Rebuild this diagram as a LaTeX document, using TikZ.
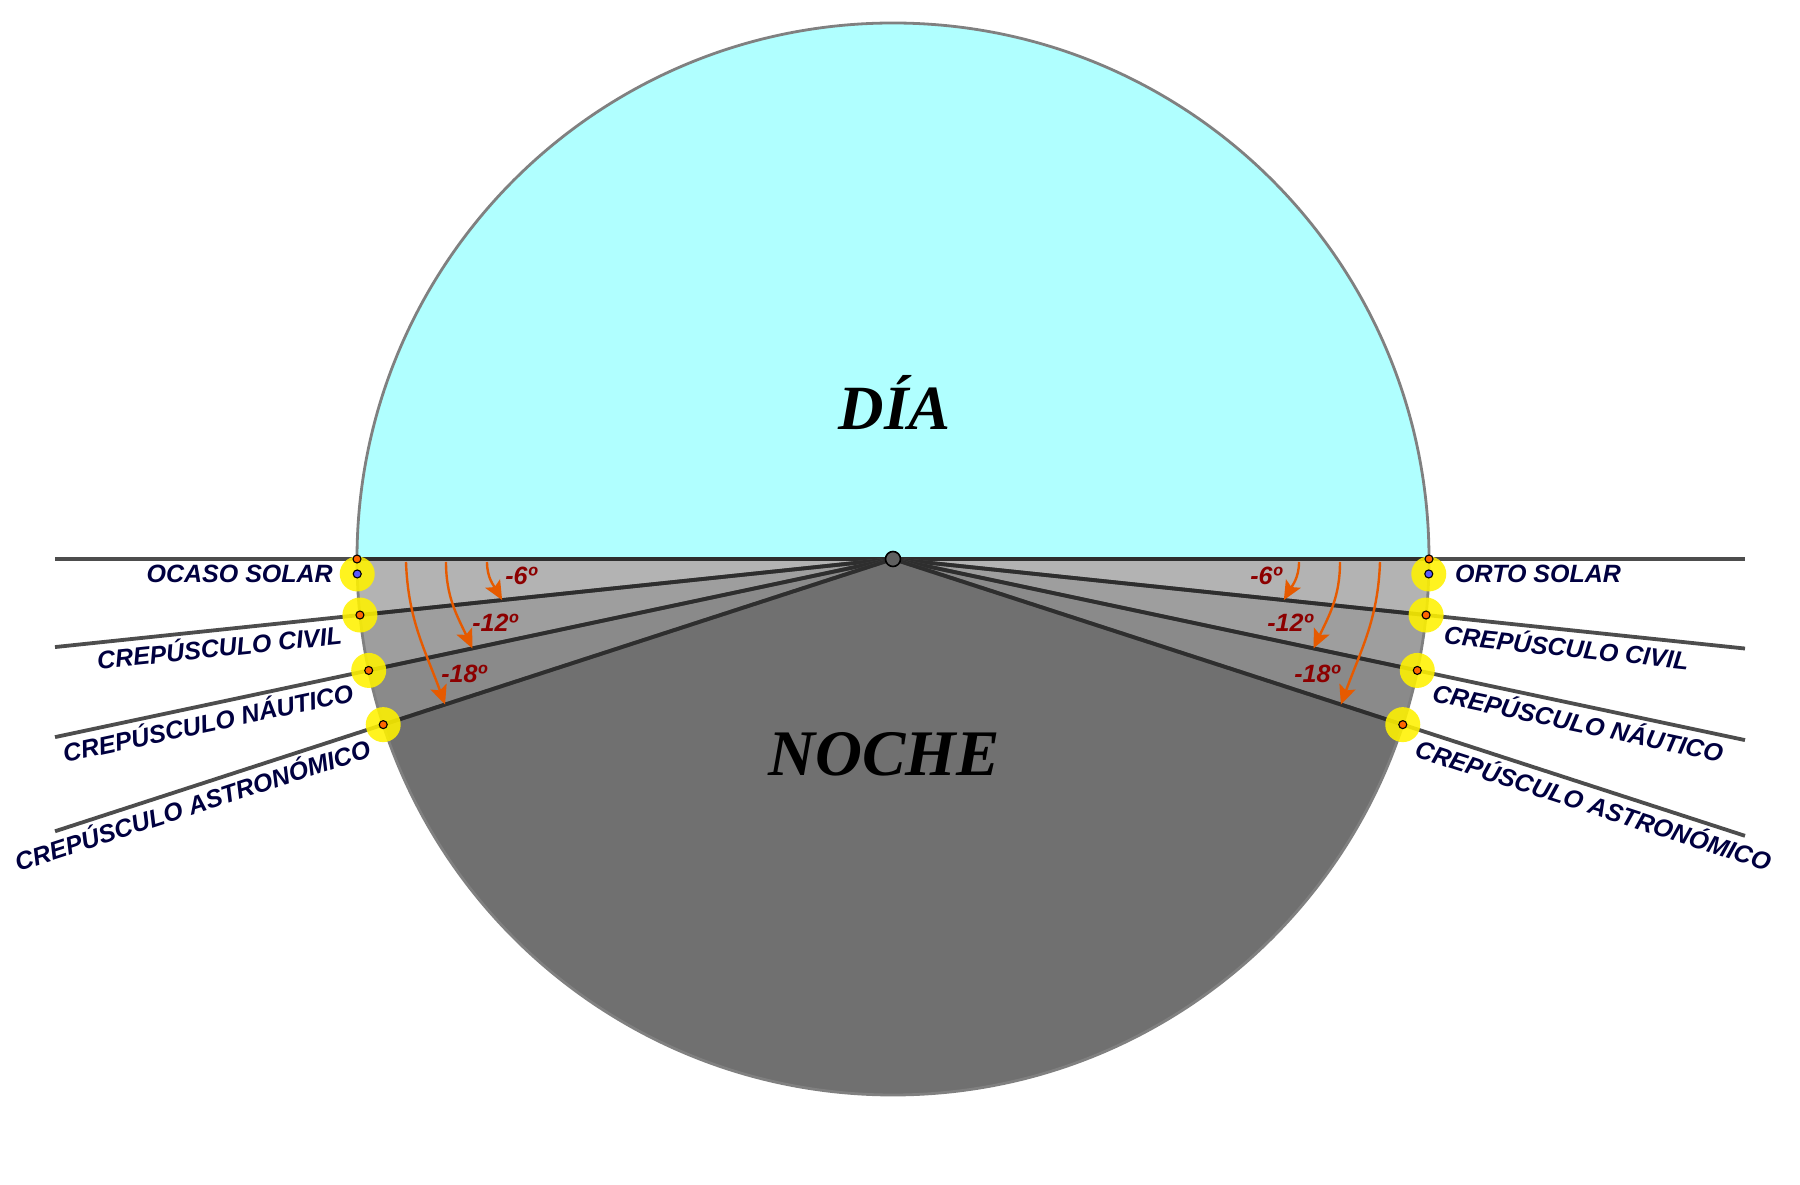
\documentclass[tikz,border=0pt]{standalone}
\usepackage{fontspec}
\newfontfamily\labfont{Liberation Sans}
\newfontfamily\bigfont{Liberation Serif}
\usetikzlibrary{calc,arrows.meta}
\definecolor{sky}{RGB}{176,255,255}
\definecolor{bandA}{RGB}{179,179,179}
\definecolor{bandB}{RGB}{158,158,158}
\definecolor{bandC}{RGB}{138,138,138}
\definecolor{night}{RGB}{112,112,112}
\definecolor{rim}{RGB}{128,128,128}
\definecolor{rayout}{RGB}{77,77,77}
\definecolor{rayin}{RGB}{46,46,46}
\definecolor{navy}{RGB}{0,0,64}
\definecolor{degcol}{RGB}{140,0,0}
\definecolor{arrcol}{RGB}{230,90,0}
\definecolor{dotor}{RGB}{255,102,0}
\definecolor{dotbl}{RGB}{90,90,255}
\tikzset{
  raystyle/.style={draw=rayout,line width=3.8pt},
  rayinner/.style={draw=rayin,line width=3.8pt},
  arrowstyle/.style={draw=arrcol,line width=2.4pt,-{Stealth[length=19pt,width=17pt,inset=4pt]}},
  halo/.style={fill=yellow,opacity=0.88},
  dotorange/.style={fill=dotor,draw=black,line width=1.1pt},
  dotblue/.style={fill=dotbl,draw=black,line width=1.1pt},
  lab/.style={font=\labfont\bfseries\itshape\fontsize{25}{30}\selectfont,text=navy,inner sep=0pt},
  deglab/.style={font=\labfont\bfseries\itshape\fontsize{25}{30}\selectfont,text=degcol,inner sep=0pt,anchor=base},
  bigtext/.style={text=black,inner sep=0pt,anchor=base}
}
\begin{document}
\begin{tikzpicture}[x=1pt,y=1pt]
\useasboundingbox (0,0) rectangle (1800,1184);
\fill[white] (0,0) rectangle (1800,1184);
\coordinate (C) at (893,625);
\def\R{536}
% fills
\fill[sky] ($(C)+(0:\R)$) arc[start angle=0,end angle=180,radius=\R] -- cycle;
\fill[bandA] (C) -- ($(C)+(180:\R)$) arc[start angle=180,end angle=186,radius=\R] -- cycle;
\fill[bandA] (C) -- ($(C)+(0:\R)$) arc[start angle=0,end angle=-6,radius=\R] -- cycle;
\fill[bandB] (C) -- ($(C)+(186:\R)$) arc[start angle=186,end angle=192,radius=\R] -- cycle;
\fill[bandB] (C) -- ($(C)+(-6:\R)$) arc[start angle=-6,end angle=-12,radius=\R] -- cycle;
\fill[bandC] (C) -- ($(C)+(192:\R)$) arc[start angle=192,end angle=198,radius=\R] -- cycle;
\fill[bandC] (C) -- ($(C)+(-12:\R)$) arc[start angle=-12,end angle=-18,radius=\R] -- cycle;
\fill[night] (C) -- ($(C)+(198:\R)$) arc[start angle=198,end angle=342,radius=\R] -- cycle;
\draw[rim,line width=2.8pt] (C) circle[radius=\R];
% coordinates
\foreach \a/\n in {0/0,6/1,12/2,18/3}{
  \coordinate (L\n) at ($(C)+(180+\a:{838/cos(\a)})$);
  \coordinate (E\n) at ($(C)+(-\a:{852/cos(\a)})$);
  \coordinate (PL\n) at ($(C)+(180+\a:\R)$);
  \coordinate (PR\n) at ($(C)+(-\a:\R)$);
}
\coordinate (SL) at ($(C)+(181.6:\R)$);
\coordinate (SR) at ($(C)+(-1.6:\R)$);
% rays
\foreach \n in {0,1,2,3}{
  \draw[raystyle] (C) -- (L\n);
  \draw[raystyle] (C) -- (E\n);
  \draw[rayinner] (C) -- (PL\n);
  \draw[rayinner] (C) -- (PR\n);
}
% arrows
\coordinate (A1s) at (487,622); \coordinate (A1e) at ($(C)+(186:393)$);
\coordinate (A2s) at (446,622); \coordinate (A2e) at ($(C)+(192:430)$);
\coordinate (A3s) at (406,622); \coordinate (A3e) at ($(C)+(198:471)$);
\coordinate (B1s) at (1299,622); \coordinate (B1e) at ($(C)+(-6:393)$);
\coordinate (B2s) at (1340,622); \coordinate (B2e) at ($(C)+(-12:430)$);
\coordinate (B3s) at (1380,622); \coordinate (B3e) at ($(C)+(-18:471)$);
\draw[arrowstyle] (A1s) to[out=-90,in=120] (A1e);
\draw[arrowstyle] (A2s) to[out=-90,in=115] (A2e);
\draw[arrowstyle] (A3s) to[out=-88,in=110] (A3e);
\draw[arrowstyle] (B1s) to[out=-90,in=60] (B1e);
\draw[arrowstyle] (B2s) to[out=-90,in=65] (B2e);
\draw[arrowstyle] (B3s) to[out=-92,in=70] (B3e);
% halos and dots
\fill[halo] (SL) circle[radius=17.5];
\fill[halo] (SR) circle[radius=17.5];
\foreach \n in {1,2,3}{
  \fill[halo] (PL\n) circle[radius=17.5];
  \fill[halo] (PR\n) circle[radius=17.5];
}
\foreach \n in {0,1,2,3}{
  \filldraw[dotorange] (PL\n) circle[radius=4];
  \filldraw[dotorange] (PR\n) circle[radius=4];
}
\filldraw[dotblue] (SL) circle[radius=4];
\filldraw[dotblue] (SR) circle[radius=4];
\filldraw[fill=rayout!90,draw=black,line width=1.6pt] (C) circle[radius=7.5];
% labels
\node[lab,anchor=base east] (ocaso) at (333,601) {OCASO SOLAR};
\node[lab,anchor=base west] (orto) at (1455,601) {ORTO SOLAR};
\node[lab,anchor=base east,rotate=6] (lc) at ($(C)+(186:556)+(-84:27)$) {CREPÚSCULO CIVIL};
\node[lab,anchor=base east,rotate=12] (ln) at ($(C)+(192:556)+(-78:27)$) {CREPÚSCULO NÁUTICO};
\node[lab,anchor=base east,rotate=18] (la) at ($(C)+(198:556)+(-72:27)$) {CREPÚSCULO ASTRONÓMICO};
\node[lab,anchor=base west,rotate=-6] (rc) at ($(C)+(-6:556)+(-96:27)$) {CREPÚSCULO CIVIL};
\node[lab,anchor=base west,rotate=-12] (rn) at ($(C)+(-12:556)+(-102:27)$) {CREPÚSCULO NÁUTICO};
\node[lab,anchor=base west,rotate=-18] (ra) at ($(C)+(-18:556)+(-108:27)$) {CREPÚSCULO ASTRONÓMICO};
\node[deglab] (d1) at (521,599) {-6º};
\node[deglab] (d2) at (495,552) {-12º};
\node[deglab] (d3) at (464,501) {-18º};
\node[deglab] (e1) at (1266,599) {-6º};
\node[deglab] (e2) at (1290,552) {-12º};
\node[deglab] (e3) at (1317,501) {-18º};
\node[bigtext,font=\bigfont\bfseries\itshape\fontsize{63}{70}\selectfont] (dia) at (895,754) {DÍA};
\node[bigtext,font=\bigfont\bfseries\itshape\fontsize{65}{72}\selectfont] (noche) at (884,408) {NOCHE};
\end{tikzpicture}
\end{document}
